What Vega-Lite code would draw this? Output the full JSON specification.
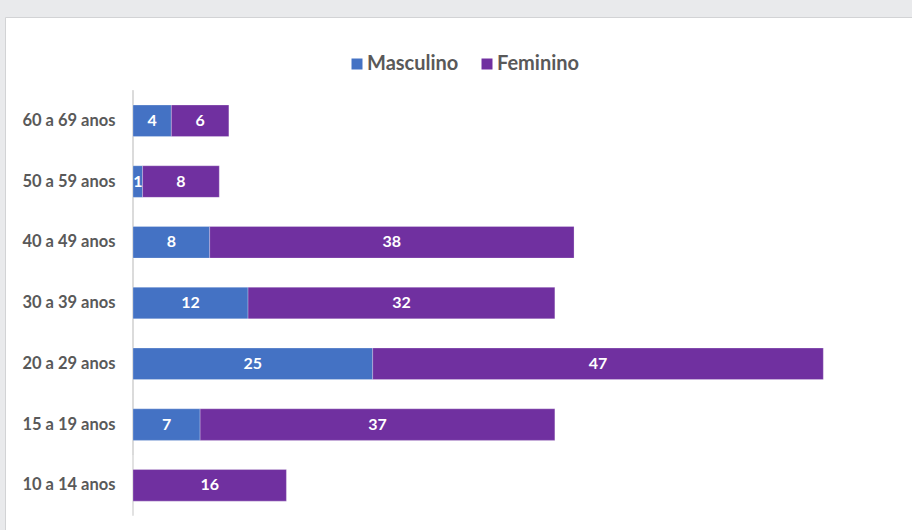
{
  "$schema": "https://vega.github.io/schema/vega-lite/v6.json",
  "autosize": "none",
  "width": 907,
  "height": 513,
  "padding": {"left": 5, "top": 17, "right": 0, "bottom": 0},
  "background": "#e9eaec",
  "config": {
    "view": {"fill": "#ffffff", "stroke": "#d2d3d5", "strokeWidth": 1},
    "font": "Lato"
  },
  "data": {
    "values": [
      {"idade": "60 a 69 anos", "sexo": "Masculino", "n": 4},
      {"idade": "60 a 69 anos", "sexo": "Feminino", "n": 6},
      {"idade": "50 a 59 anos", "sexo": "Masculino", "n": 1},
      {"idade": "50 a 59 anos", "sexo": "Feminino", "n": 8},
      {"idade": "40 a 49 anos", "sexo": "Masculino", "n": 8},
      {"idade": "40 a 49 anos", "sexo": "Feminino", "n": 38},
      {"idade": "30 a 39 anos", "sexo": "Masculino", "n": 12},
      {"idade": "30 a 39 anos", "sexo": "Feminino", "n": 32},
      {"idade": "20 a 29 anos", "sexo": "Masculino", "n": 25},
      {"idade": "20 a 29 anos", "sexo": "Feminino", "n": 47},
      {"idade": "15 a 19 anos", "sexo": "Masculino", "n": 7},
      {"idade": "15 a 19 anos", "sexo": "Feminino", "n": 37},
      {"idade": "10 a 14 anos", "sexo": "Feminino", "n": 16}
    ]
  },
  "encoding": {
    "y": {
      "field": "idade",
      "type": "nominal",
      "sort": ["60 a 69 anos", "50 a 59 anos", "40 a 49 anos", "30 a 39 anos", "20 a 29 anos", "15 a 19 anos", "10 a 14 anos"],
      "scale": {"paddingInner": 0.48, "paddingOuter": 0.962, "align": 0.753},
      "axis": {
        "title": null,
        "orient": "left",
        "offset": -128,
        "domain": false,
        "ticks": false,
        "tickSize": 0,
        "labelPadding": 18,
        "labelFontSize": 16.5,
        "labelFontWeight": "bold",
        "labelColor": "#595959",
        "labelFont": "Lato"
      }
    }
  },
  "layer": [
    {
      "mark": {"type": "tick", "color": "#d9d9d9", "size": 61, "thickness": 1.5, "opacity": 1},
      "encoding": {
        "x": {"datum": 0, "type": "quantitative", "scale": {"domain": [-13.35, 81.25], "nice": false, "zero": false}, "axis": null}
      }
    },
    {
      "mark": {"type": "bar", "stroke": "#ffffff", "strokeWidth": 0.5, "strokeOpacity": 0.5},
      "encoding": {
        "x": {"field": "n", "type": "quantitative", "stack": "zero", "scale": {"domain": [-13.35, 81.25], "nice": false, "zero": false}, "axis": null},
        "color": {
          "field": "sexo",
          "type": "nominal",
          "scale": {"domain": ["Masculino", "Feminino"], "range": ["#4472c4", "#7030a0"]},
          "legend": {
            "title": null,
            "orient": "none",
            "legendX": 342,
            "legendY": 37,
            "direction": "horizontal",
            "symbolType": "square",
            "symbolSize": 121,
            "symbolStrokeWidth": 0,
            "labelFontSize": 20,
            "labelFont": "Lato",
            "labelFontWeight": "bold",
            "labelColor": "#595959",
            "labelOffset": 0,
            "columnPadding": 18,
            "padding": 0
          }
        },
        "order": {"field": "sexo", "sort": "descending"}
      }
    },
    {
      "mark": {"type": "text", "color": "#ffffff", "fontSize": 16, "fontWeight": "bold", "font": "Lato", "align": "center", "baseline": "middle"},
      "encoding": {
        "x": {"field": "n", "type": "quantitative", "stack": "zero", "bandPosition": 0.5},
        "detail": {"field": "sexo"},
        "order": {"field": "sexo", "sort": "descending"},
        "text": {"field": "n", "type": "quantitative"}
      }
    }
  ]
}
